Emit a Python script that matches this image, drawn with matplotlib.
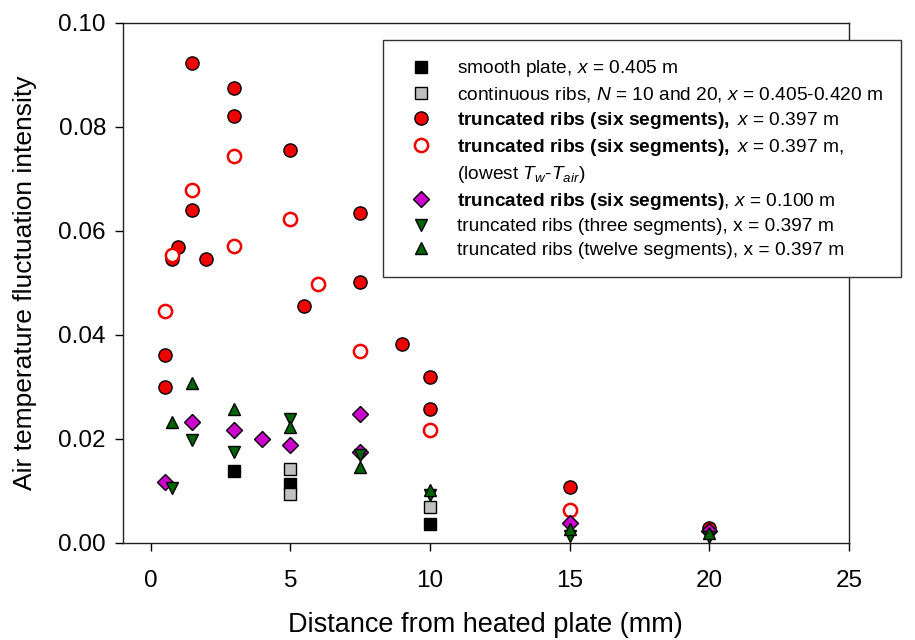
import numpy as np
import matplotlib
matplotlib.use('Agg')
import matplotlib.pyplot as plt
from matplotlib.lines import Line2D

plt.rcParams['font.family'] = ['Liberation Sans', 'DejaVu Sans']
plt.rcParams['mathtext.fontset'] = 'custom'
plt.rcParams['mathtext.rm'] = 'Liberation Sans'
plt.rcParams['mathtext.it'] = 'Liberation Sans:italic'
plt.rcParams['mathtext.bf'] = 'Liberation Sans:bold'

# smooth plate, x = 0.405 m
smooth_x = [3, 5, 10]
smooth_y = [0.0137, 0.0112, 0.0036]
# continuous ribs
ribs_x = [5, 5, 10]
ribs_y = [0.0142, 0.0093, 0.0068]
# truncated ribs (six segments), x = 0.397 m
six_x = [0.5, 0.5, 0.75, 1.0, 1.5, 1.5, 2.0, 3.0, 3.0, 5.0, 5.5, 7.5, 7.5, 9.0, 10, 10, 15, 20]
six_y = [0.0361, 0.0300, 0.0545, 0.0568, 0.0922, 0.0640, 0.0546, 0.0875, 0.0821, 0.0755,
         0.0455, 0.0635, 0.0501, 0.0382, 0.0318, 0.0257, 0.0108, 0.0029]
# six segments, lowest Tw-Tair
low_x = [0.5, 0.75, 1.5, 3, 3, 5, 6, 7.5, 10, 15]
low_y = [0.0446, 0.0553, 0.0679, 0.0744, 0.0571, 0.0622, 0.0497, 0.0369, 0.0217, 0.0062]
# six segments, x = 0.100 m
front_x = [0.5, 1.5, 3, 4, 5, 7.5, 7.5, 15, 20]
front_y = [0.0116, 0.0233, 0.0217, 0.0200, 0.0188, 0.0248, 0.0175, 0.0037, 0.0023]
# three segments
three_x = [0.75, 1.5, 3, 5, 7.5, 10, 15, 20]
three_y = [0.0105, 0.0197, 0.0175, 0.0238, 0.0168, 0.0091, 0.0013, 0.0011]
# twelve segments
twelve_x = [0.75, 1.5, 3, 5, 7.5, 10, 15, 20]
twelve_y = [0.0233, 0.0308, 0.0257, 0.0222, 0.0145, 0.0101, 0.0027, 0.0018]

labels = [
    r'smooth plate, $x$ = 0.405 m',
    r'continuous ribs, $N$ = 10 and 20, $x$ = 0.405-0.420 m',
    r'$\mathbf{truncated\ ribs\ (six\ segments),}\ x$ = 0.397 m',
    r'$\mathbf{truncated\ ribs\ (six\ segments),}\ x$ = 0.397 m,',
    r'(lowest $T_w$-$T_{air}$)',
    r'$\mathbf{truncated\ ribs\ (six\ segments)}$, $x$ = 0.100 m',
    'truncated ribs (three segments), x = 0.397 m',
    'truncated ribs (twelve segments), x = 0.397 m',
]

red = '#f00000'
green = '#006400'
magenta = '#cc00cc'

fig = plt.figure(figsize=(9.15, 6.4), dpi=100)
ax = fig.add_axes([0.134, 0.152, 0.794, 0.8125])

styles = [
    dict(marker='s', ms=8, mfc='black', mec='black'),
    dict(marker='s', ms=8, mfc='#c0c0c0', mec='black'),
    dict(marker='o', ms=9.5, mfc=red, mec='black'),
    dict(marker='o', ms=9.5, mfc='white', mec=red, mew=1.8),
    dict(marker='D', ms=8.3, mfc=magenta, mec='black'),
    dict(marker='v', ms=9, mfc=green, mec='black'),
    dict(marker='^', ms=9, mfc=green, mec='black'),
]
series = [(smooth_x, smooth_y), (ribs_x, ribs_y), (six_x, six_y), (low_x, low_y),
          (front_x, front_y), (three_x, three_y), (twelve_x, twelve_y)]

for (xs, ys), st in zip(series, styles):
    st = dict(st)
    st.setdefault('mew', 1.0)
    ax.plot(xs, ys, ls='none', clip_on=False, **st)

handles = []
for st in styles:
    st = dict(st)
    st.setdefault('mew', 1.0)
    handles.append(Line2D([], [], ls='none', **st))
handles.insert(4, Line2D([], [], ls='none', marker=None))

leg = ax.legend(handles, labels, loc='upper left', bbox_to_anchor=(0.3586, 0.9667),
                borderaxespad=0, fontsize=13.8, frameon=True, fancybox=False,
                edgecolor='#333333', framealpha=1, borderpad=0.95,
                handlelength=2.1, handletextpad=0.8, labelspacing=0.31)
leg.get_frame().set_linewidth(1.0)

ax.set_xlim(-1, 25)
ax.set_ylim(0, 0.10)
ax.set_xticks([0, 5, 10, 15, 20, 25])
ax.set_yticks(np.arange(0, 0.101, 0.02))
ax.yaxis.set_major_formatter(matplotlib.ticker.FormatStrFormatter('%.2f'))
ax.tick_params(direction='out', length=6, width=1, labelsize=17.5)
ax.tick_params(axis='x', pad=14)
ax.tick_params(axis='y', pad=6)
for sp in ax.spines.values():
    sp.set_linewidth(1.0)
    sp.set_color('#222222')

ax.set_xlabel('Distance from heated plate (mm)', fontsize=19.5, labelpad=14)
ax.set_ylabel('Air temperature fluctuation intensity', fontsize=19, labelpad=15)

fig.savefig('out.png', dpi=100)
